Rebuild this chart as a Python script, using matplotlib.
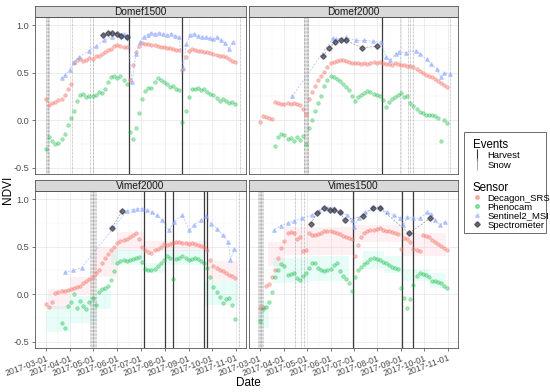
import numpy as np
import matplotlib
matplotlib.use('Agg')
import matplotlib.pyplot as plt
from matplotlib.lines import Line2D
from matplotlib.patches import Rectangle

# =========================================================================
# data (x = days since 2017-03-01)
# =========================================================================
panels = ['Domef1500', 'Domef2000', 'Vimef2000', 'Vimes1500']

# in-situ sensors sampled every 4 days (Mar 1 .. Oct 31)
grid_days = np.arange(0, 245, 4)

decagon_domef1500 = [
    0.22, 0.16, 0.18, 0.19, 0.21, 0.22, 0.27, 0.33, 0.38, 0.60,
    0.63, 0.64, 0.62, 0.63, 0.65, 0.64, 0.67, 0.68, 0.70, 0.72,
    0.74, 0.75, 0.78, 0.79, 0.78, 0.77, 0.77, 0.42, 0.58, 0.72,
    0.78, 0.81, 0.80, 0.80, 0.79, 0.79, 0.78, 0.77, 0.77, 0.76,
    0.76, 0.75, 0.74, 0.74, 0.53, 0.66, 0.73, 0.75, 0.74, 0.73,
    0.73, 0.72, 0.72, 0.71, 0.70, 0.69, 0.68, 0.67, 0.66, 0.64,
    0.62, 0.61]
phenocam_domef1500 = [
    -0.30, -0.18, -0.22, -0.25, -0.24, -0.20, -0.14, -0.05, 0.02, 0.10,
    0.20, 0.27, 0.28, 0.24, 0.26, 0.25, 0.27, 0.30, 0.29, 0.33,
    0.40, 0.45, 0.46, 0.44, 0.46, 0.42, 0.38, -0.12, -0.20, -0.08,
    0.08, 0.22, 0.31, 0.34, 0.34, 0.40, 0.44, 0.42, 0.40, 0.38,
    0.35, 0.36, 0.33, 0.32, -0.02, 0.10, 0.24, 0.33, 0.33, 0.34,
    0.32, 0.33, 0.30, 0.28, 0.27, 0.23, 0.20, 0.22, 0.20, 0.18,
    0.19, 0.17]
s2_days_domef1500 = [20, 25, 31, 36, 42, 55, 65, 75, 85, 95, 100, 105, 111, 116, 121, 126,
                     131, 136, 141, 146, 151, 156, 161, 166, 171, 177, 181, 186, 191, 196,
                     201, 206, 211, 216, 221, 226, 231, 236, 241]
s2_domef1500 = [0.44, 0.48, 0.53, 0.61, 0.66, 0.73, 0.78, 0.84, 0.88, 0.90, 0.91, 0.88, 0.40, 0.70, 0.82, 0.88,
                0.90, 0.92, 0.91, 0.92, 0.91, 0.90, 0.91, 0.89, 0.88, 0.55, 0.80, 0.90, 0.91, 0.89,
                0.88, 0.87, 0.86, 0.85, 0.87, 0.84, 0.81, 0.75, 0.82]
spec_days_domef1500 = [73, 80, 85, 92, 97, 104]
spec_domef1500 = [0.90, 0.92, 0.92, 0.91, 0.89, 0.88]

decagon_domef2000 = [
    -0.02, 0.04, 0.03, 0.02, 0.01, 0.19, 0.18, 0.17, 0.17, 0.18,
    0.17, 0.18, 0.17, 0.16, 0.12, 0.07, 0.22, 0.30, 0.36, 0.42,
    0.46, 0.51, 0.56, 0.60, 0.61, 0.62, 0.63, 0.63, 0.62, 0.61,
    0.60, 0.60, 0.60, 0.59, 0.60, 0.59, 0.60, 0.61, 0.60, 0.61,
    0.60, 0.59, 0.59, 0.58, 0.60, 0.59, 0.58, 0.58, 0.57, 0.57,
    0.56, 0.54, 0.52, 0.50, 0.48, 0.47, 0.45, 0.43, 0.41, 0.39,
    0.37, 0.35]
phenocam_domef2000 = [
    np.nan, np.nan, np.nan, np.nan, np.nan, -0.27, -0.18, -0.14, -0.16, -0.20,
    -0.19, -0.22, -0.18, -0.21, -0.17, -0.25, -0.08, 0.00, 0.10, 0.18,
    0.26, 0.36, 0.42, 0.46, 0.45, 0.43, 0.41, 0.38, 0.35, 0.32,
    0.25, 0.20, 0.24, 0.27, 0.29, 0.31, 0.30, 0.28, 0.27, 0.25,
    0.21, 0.14, 0.19, 0.22, 0.24, 0.27, 0.29, 0.24, 0.26, 0.18,
    0.15, 0.12, 0.09, 0.08, 0.06, 0.05, 0.05, 0.04, 0.02, -0.22,
    0.00, -0.03]
s2_days_domef2000 = [42, 95, 99, 112, 125, 136, 147, 158, 164, 170, 177, 181, 190, 203,
                     208, 217, 223, 230, 236, 240, 247]
s2_domef2000 = [0.25, 0.86, 0.85, 0.87, 0.84, 0.84, 0.83, 0.82, 0.66, 0.63, 0.70, 0.72, 0.71, 0.73,
                0.70, 0.64, 0.59, 0.54, 0.45, 0.50, 0.49]
spec_days_domef2000 = [82, 90, 98, 105, 112, 133, 153]
spec_domef2000 = [0.67, 0.76, 0.82, 0.84, 0.84, 0.76, 0.78]

decagon_vimef2000 = [
    -0.10, -0.13, -0.08, 0.01, 0.02, 0.03, 0.03, 0.04, 0.05, 0.07,
    0.08, 0.09, 0.12, 0.14, 0.16, 0.18, 0.22, 0.26, 0.33, 0.38,
    0.42, 0.46, 0.50, 0.54, 0.56, 0.57, 0.58, 0.60, 0.62, 0.64,
    0.58, 0.50, 0.46, 0.44, 0.43, 0.46, 0.48, 0.50, 0.53, 0.52,
    0.53, 0.54, 0.55, 0.55, 0.54, 0.54, 0.53, 0.54, 0.53, 0.52,
    0.51, 0.50, 0.47, 0.36, 0.30, 0.28, 0.26, 0.24, 0.22, 0.20,
    0.19, 0.17]
phenocam_vimef2000 = [
    np.nan, np.nan, np.nan, np.nan, np.nan, -0.30, -0.36, -0.12, -0.08, 0.00,
    -0.14, -0.07, -0.12, -0.16, -0.08, -0.04, -0.11, 0.02, 0.05, 0.07,
    0.09, 0.15, 0.24, 0.33, 0.35, 0.36, 0.35, 0.36, 0.37, 0.38,
    0.39, 0.34, 0.27, 0.26, 0.25, 0.27, 0.30, 0.33, 0.36, 0.40,
    0.38, 0.16, 0.37, 0.38, 0.40, 0.38, 0.36, 0.37, 0.38, 0.37,
    0.35, 0.33, 0.28, 0.18, 0.08, 0.02, -0.03, -0.09, -0.05, -0.04,
    -0.11, -0.26]
s2_days_vimef2000 = [24, 35, 46, 105, 112, 118, 124, 130, 137, 143, 150, 159, 165, 176, 185,
                     191, 200, 206, 213, 221, 228, 235, 238, 243]
s2_vimef2000 = [0.23, 0.25, 0.28, 0.88, 0.89, 0.90, 0.90, 0.89, 0.86, 0.83, 0.78, 0.67, 0.76, 0.83, 0.67,
                0.73, 0.78, 0.82, 0.74, 0.69, 0.62, 0.55, 0.36, 0.48]
spec_days_vimef2000 = [85, 98]
spec_vimef2000 = [0.70, 0.87]

decagon_vimes1500 = [
    -0.14, -0.13, 0.09, 0.11, 0.18, 0.26, 0.38, 0.49, 0.56, 0.64,
    0.65, 0.64, 0.58, 0.60, 0.45, 0.46, 0.64, 0.62, 0.62, 0.63,
    0.64, 0.66, 0.66, 0.66, 0.65, 0.64, 0.63, 0.61, 0.60, 0.59,
    0.58, 0.40, 0.52, 0.60, 0.64, 0.66, 0.67, 0.68, 0.69, 0.70,
    0.68, 0.66, 0.66, 0.65, 0.64, 0.63, 0.48, 0.59, 0.58, 0.55,
    0.48, 0.46, 0.45, 0.62, 0.61, 0.60, 0.57, 0.55, 0.53, 0.51,
    0.49, 0.47]
phenocam_vimes1500 = [
    -0.28, -0.16, -0.13, -0.08, 0.02, 0.18, 0.26, 0.32, 0.30, 0.20,
    0.21, 0.22, 0.17, 0.15, 0.19, 0.22, 0.28, 0.33, 0.33, 0.28,
    0.26, 0.24, 0.25, 0.27, 0.31, 0.33, 0.24, 0.19, 0.16, 0.12,
    0.03, 0.18, 0.26, 0.29, 0.32, 0.34, 0.37, 0.38, 0.37, 0.36,
    0.34, 0.33, 0.31, 0.29, 0.28, 0.27, 0.07, -0.04, -0.14, -0.05,
    0.10, 0.19, 0.22, 0.21, 0.20, 0.18, 0.14, 0.14, 0.13, 0.12,
    0.09, 0.07]
s2_days_vimes1500 = [19, 27, 36, 45, 55, 68, 77, 88, 96, 105, 114, 120, 122, 129, 137, 146,
                     157, 165, 174, 183, 187, 192, 200, 209, 217, 223, 228, 234, 241]
s2_vimes1500 = [0.68, 0.72, 0.75, 0.77, 0.80, 0.83, 0.88, 0.91, 0.91, 0.86, 0.83, 0.78, 0.71, 0.80, 0.86, 0.91,
                0.92, 0.86, 0.83, 0.80, 0.73, 0.81, 0.80, 0.80, 0.86, 0.84, 0.78, 0.73, 0.76]
spec_days_vimes1500 = [66, 74, 83, 91, 97, 104, 111, 134, 147, 156, 194, 222]
spec_vimes1500 = [0.74, 0.85, 0.91, 0.89, 0.89, 0.86, 0.78, 0.82, 0.91, 0.91, 0.64, 0.80]

# ranges (start day, end day, low, high)
decagon_band_vimef2000 = [(3, 31, -0.16, 0.05), (31, 61, 0.0, 0.18), (61, 92, 0.18, 0.50),
                          (92, 126, 0.45, 0.65), (126, 209, 0.45, 0.56), (209, 248, 0.14, 0.35)]
phenocam_band_vimef2000 = [(1, 31, -0.40, -0.12), (31, 66, -0.30, -0.02), (66, 84, -0.15, 0.05),
                           (84, 126, 0.31, 0.47), (126, 153, 0.22, 0.33), (153, 204, 0.31, 0.47),
                           (204, 248, -0.11, 0.14)]
decagon_band_vimes1500 = [(10, 32, 0.30, 0.55), (32, 122, 0.41, 0.71), (122, 187, 0.55, 0.73),
                          (187, 243, 0.40, 0.64)]
phenocam_band_vimes1500 = [(-1, 12, -0.35, -0.07), (17, 64, 0.12, 0.38), (64, 116, 0.14, 0.40),
                           (134, 162, 0.27, 0.45), (162, 185, 0.22, 0.40), (187, 221, 0.14, 0.27),
                           (221, 243, 0.07, 0.22)]

harvest_days = {'Domef1500': [107, 175], 'Domef2000': [159],
                'Vimef2000': [126, 153, 164, 204, 208], 'Vimes1500': [121, 185, 199]}
snow_days = {'Domef1500': [0, 1, 2, 3, 4, 34, 57, 61, 250],
             'Domef2000': [57, 58, 59, 60, 61, 62, 63, 183, 193, 196, 199, 248],
             'Vimef2000': [57, 58, 59, 60, 61, 62, 63, 64, 249],
             'Vimes1500': [-2, -1, 0, 1, 2, 3, 4, 46, 54, 57]}

month_days = [0, 31, 61, 92, 122, 153, 184, 214, 245]
month_labels = ['2017-03-01', '2017-04-01', '2017-05-01', '2017-06-01', '2017-07-01',
                '2017-08-01', '2017-09-01', '2017-10-01', '2017-11-01']

series = {
    'Domef1500': (decagon_domef1500, phenocam_domef1500, s2_days_domef1500, s2_domef1500,
                  spec_days_domef1500, spec_domef1500, [], []),
    'Domef2000': (decagon_domef2000, phenocam_domef2000, s2_days_domef2000, s2_domef2000,
                  spec_days_domef2000, spec_domef2000, [], []),
    'Vimef2000': (decagon_vimef2000, phenocam_vimef2000, s2_days_vimef2000, s2_vimef2000,
                  spec_days_vimef2000, spec_vimef2000, decagon_band_vimef2000, phenocam_band_vimef2000),
    'Vimes1500': (decagon_vimes1500, phenocam_vimes1500, s2_days_vimes1500, s2_vimes1500,
                  spec_days_vimes1500, spec_vimes1500, decagon_band_vimes1500, phenocam_band_vimes1500),
}

C_DEC = '#F8766D'
C_PHE = '#00BA38'
C_S2 = '#8FA8FF'
C_SPEC = '#3a3a4a'

# =========================================================================
# figure
# =========================================================================
W, H = 550, 392
fig = plt.figure(figsize=(W / 100, H / 100), dpi=100)
plt.rcParams['font.family'] = ['Liberation Sans', 'DejaVu Sans']


def px_axes(x0, y0, x1, y1):
    return fig.add_axes([x0 / W, 1 - y1 / H, (x1 - x0) / W, (y1 - y0) / H])


boxes = {'Domef1500': (35, 17, 246, 174), 'Domef2000': (249, 17, 458, 174),
         'Vimef2000': (35, 191, 246, 348), 'Vimes1500': (249, 191, 458, 348)}

for k, name in enumerate(panels):
    x0, y0, x1, y1 = boxes[name]
    ax = px_axes(x0, y0, x1, y1)
    dec, phe, s2d, s2v, spd, spv, dband, pband = series[name]

    for d0, d1, lo, hi in dband:
        ax.fill_between([d0, d1], lo, hi, color='#FF9AA8', alpha=0.13, lw=0, zorder=1)
    for d0, d1, lo, hi in pband:
        ax.fill_between([d0, d1], lo, hi, color='#33F0C0', alpha=0.11, lw=0, zorder=1)

    for d in snow_days[name]:
        ax.axvline(d, color='#8a8a8a', lw=0.45, ls=(0, (1, 1.2)), zorder=2)
    for d in harvest_days[name]:
        ax.axvline(d, color='#3a3a3a', lw=0.9, zorder=2)

    ax.plot(grid_days, dec, 'o', ms=2.6, color=C_DEC, alpha=0.45, mew=0.5, zorder=3)
    ax.plot(grid_days, phe, 'o', ms=2.6, color=C_PHE, alpha=0.35, mew=0.5, zorder=3)
    ax.plot(s2d, s2v, ls=(0, (3, 2)), lw=0.5, color=C_S2, alpha=0.7, zorder=3)
    ax.plot(s2d, s2v, '^', ms=2.6, color=C_S2, alpha=0.5, zorder=3)
    ax.plot(spd, spv, ls=(0, (3, 2)), lw=0.5, color=C_SPEC, alpha=0.5, zorder=4)
    ax.plot(spd, spv, 'D', ms=2.8, color=C_SPEC, alpha=0.7, zorder=4)

    ax.set_xlim(-14.2, 258)
    ax.set_ylim(-0.565, 1.085)
    ax.set_yticks([-0.5, 0.0, 0.5, 1.0])
    ax.set_yticks([-0.25, 0.25, 0.75], minor=True)
    ax.set_xticks(month_days)
    ax.set_xticks([(a + b) / 2 for a, b in zip(month_days[:-1], month_days[1:])], minor=True)
    ax.grid(True, which='major', color='#e6e6e6', lw=0.5, zorder=0)
    ax.grid(True, which='minor', color='#f3f3f3', lw=0.35, zorder=0)
    ax.set_axisbelow(True)
    ax.tick_params(which='minor', length=0)
    ax.tick_params(which='major', length=2.5, width=0.5, color='#444444',
                   labelsize=6.6, labelcolor='#4d4d4d', pad=1.5)
    ax.tick_params(axis='x', labelsize=6.3)
    for sp in ax.spines.values():
        sp.set_color('#555555')
        sp.set_linewidth(0.6)

    if k % 2 == 0:
        ax.set_yticklabels(['-0.5', '0.0', '0.5', '1.0'])
    else:
        ax.tick_params(axis='y', labelleft=False, length=0)
    if k >= 2:
        ax.set_xticklabels(month_labels, rotation=20, ha='right', rotation_mode='anchor')
    else:
        ax.tick_params(axis='x', labelbottom=False, length=0)

    # strip
    sx = px_axes(x0, y0 - 11.5, x1, y0)
    sx.set_facecolor('#d9d9d9')
    sx.set_xticks([])
    sx.set_yticks([])
    for sp in sx.spines.values():
        sp.set_color('#555555')
        sp.set_linewidth(0.6)
    sx.text(0.5, 0.45, name, ha='center', va='center', fontsize=7.3, color='#1a1a1a',
            transform=sx.transAxes)

fig.text(248 / W, 1 - 383 / H, 'Date', ha='center', va='center', fontsize=8.5)
fig.text(8 / W, 1 - 190 / H, 'NDVI', ha='center', va='center', rotation=90, fontsize=8.5)

# legend
fig.patches.append(Rectangle((464 / W, 1 - 233 / H), 82 / W, 101 / H, transform=fig.transFigure,
                             facecolor='white', edgecolor='#555555', lw=0.6))
ev_handles = [Line2D([], [], marker='|', ls='none', color='#333333', ms=8, mew=0.8),
              Line2D([], [], marker='|', ls='none', color='#999999', ms=8, mew=0.6)]
leg1 = fig.legend(ev_handles, ['Harvest', 'Snow'], title='Events', loc='upper left',
                  bbox_to_anchor=(465 / W, 1 - 131 / H), frameon=False, fontsize=6.8,
                  title_fontsize=8.3, alignment='left', handlelength=1.0, handletextpad=0.6,
                  labelspacing=0.05, borderpad=0.3)
se_handles = [Line2D([], [], marker='o', ls='none', color=C_DEC, alpha=0.5, ms=2.6),
              Line2D([], [], marker='o', ls='none', color=C_PHE, alpha=0.4, ms=2.6),
              Line2D([], [], marker='^', ls='none', color=C_S2, alpha=0.5, ms=2.6),
              Line2D([], [], marker='D', ls='none', color=C_SPEC, alpha=0.75, ms=2.8)]
leg2 = fig.legend(se_handles, ['Decagon_SRS', 'Phenocam', 'Sentinel2_MSI', 'Spectrometer'],
                  title='Sensor', loc='upper left', bbox_to_anchor=(465 / W, 1 - 174 / H),
                  frameon=False, fontsize=6.8, title_fontsize=8.3, alignment='left',
                  handlelength=1.0, handletextpad=0.6, labelspacing=0.0, borderpad=0.3)

fig.savefig('out.png', dpi=100)
